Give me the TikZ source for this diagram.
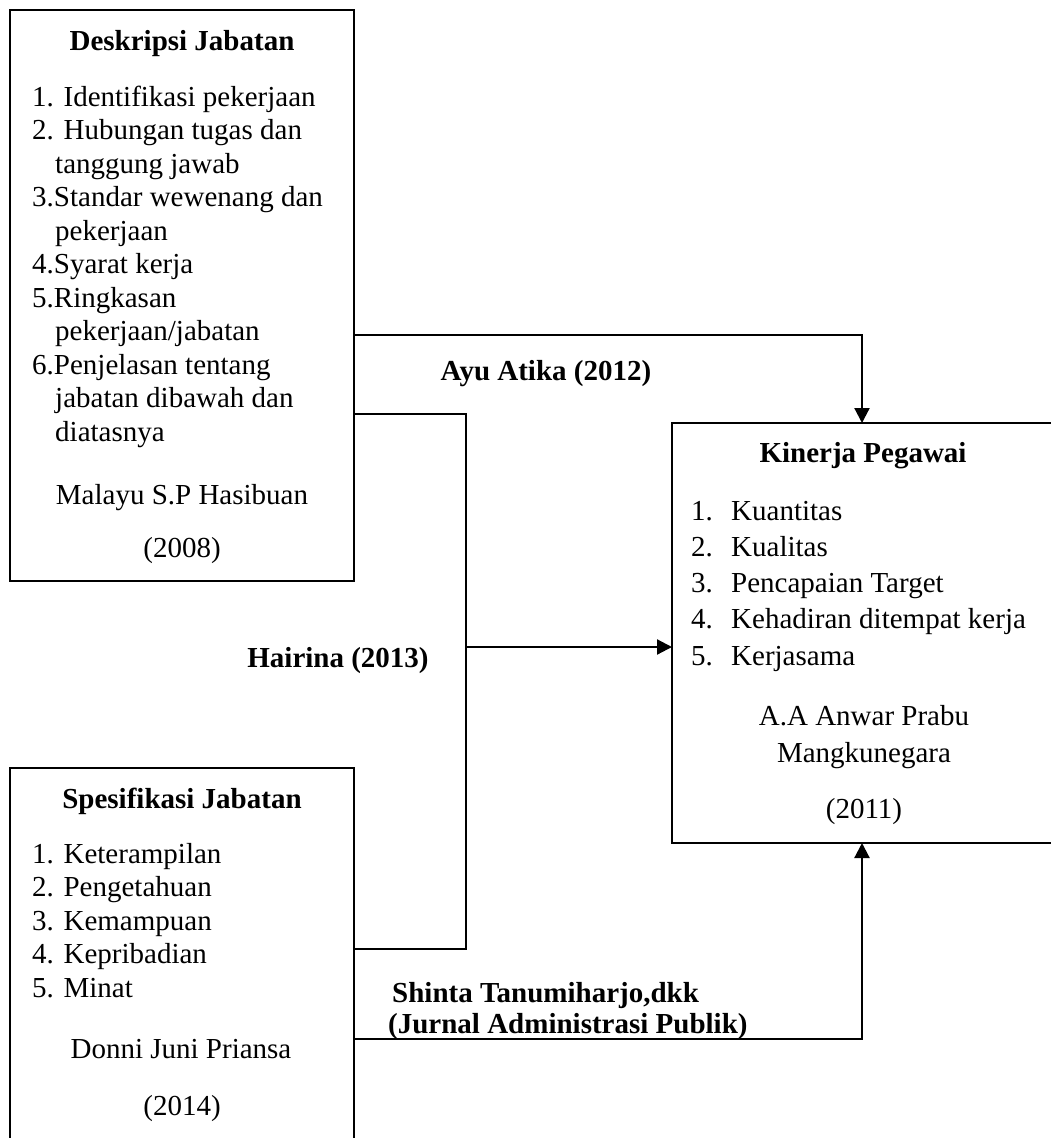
\documentclass[tikz,border=0pt]{standalone}
\usepackage{fontspec}
\setmainfont{Liberation Serif}
\usetikzlibrary{arrows.meta}
\tikzset{
  boxnode/.style={draw, line width=2.1pt, inner sep=0pt, outer sep=0pt},
  txt/.style={font=\fontsize{29}{33.5}\selectfont, inner sep=0pt, anchor=base west},
  txtc/.style={font=\fontsize{29}{33.5}\selectfont, inner sep=0pt, anchor=base},
  bold/.style={font=\fontsize{29}{33.5}\selectfont\bfseries, inner sep=0pt, anchor=base},
  boldw/.style={font=\fontsize{29}{33.5}\selectfont\bfseries, inner sep=0pt, anchor=base west},
  conn/.style={line width=2.2pt},
  arr/.style={line width=2.2pt, -{Triangle[length=15pt,width=15pt]}}
}
\begin{document}
\begin{tikzpicture}[x=1pt,y=-1pt]
\useasboundingbox (0,0) rectangle (1051,1138);
\clip (0,0) rectangle (1051,1138);

% boxes
\node[boxnode, minimum width=344pt, minimum height=571pt] (desk) at (182,295.5) {};
\node[boxnode, minimum width=388pt, minimum height=420pt] (kin) at (866,633) {};
\node[boxnode, minimum width=344pt, minimum height=382pt] (spes) at (182,959) {};

% Deskripsi Jabatan
\node[bold] (d0) at (182,50) {Deskripsi Jabatan};
\node[txt] (d1) at (32,106) {1. Identifikasi pekerjaan};
\node[txt] (d2) at (32,139.5) {2. Hubungan tugas dan};
\node[txt] (d2b) at (55,173) {tanggung jawab};
\node[txt] (d3) at (32,206.5) {3.Standar wewenang dan};
\node[txt] (d3b) at (55,240) {pekerjaan};
\node[txt] (d4) at (32,273.5) {4.Syarat kerja};
\node[txt] (d5) at (32,307) {5.Ringkasan};
\node[txt] (d5b) at (55,340.5) {pekerjaan/jabatan};
\node[txt] (d6) at (32,374) {6.Penjelasan tentang};
\node[txt] (d6b) at (55,407.5) {jabatan dibawah dan};
\node[txt] (d6c) at (55,441) {diatasnya};
\node[txtc] (da) at (182,504) {Malayu S.P Hasibuan};
\node[txtc] (dy) at (182,557) {(2008)};

% Kinerja Pegawai
\node[bold] (k0) at (863,462) {Kinerja Pegawai};
\node[txt] (k1n) at (691,520) {1.};
\node[txt] (k1) at (731,520) {Kuantitas};
\node[txt] (k2n) at (691,556.25) {2.};
\node[txt] (k2) at (731,556.25) {Kualitas};
\node[txt] (k3n) at (691,592.5) {3.};
\node[txt] (k3) at (731,592.5) {Pencapaian Target};
\node[txt] (k4n) at (691,628.75) {4.};
\node[txt] (k4) at (731,628.75) {Kehadiran ditempat kerja};
\node[txt] (k5n) at (691,665) {5.};
\node[txt] (k5) at (731,665) {Kerjasama};
\node[txtc] (ka) at (864,725) {A.A Anwar Prabu};
\node[txtc] (kb) at (864,762) {Mangkunegara};
\node[txtc] (ky) at (864,818) {(2011)};

% Spesifikasi Jabatan
\node[bold] (s0) at (182,808) {Spesifikasi Jabatan};
\node[txt] (s1) at (32,863) {1. Keterampilan};
\node[txt] (s2) at (32,896.5) {2. Pengetahuan};
\node[txt] (s3) at (32,930) {3. Kemampuan};
\node[txt] (s4) at (32,963.5) {4. Kepribadian};
\node[txt] (s5) at (32,997) {5. Minat};
\node[txtc] (sa) at (181,1058) {Donni Juni Priansa};
\node[txtc] (sy) at (182,1115) {(2014)};

% connector labels
\node[bold] (lAyu) at (546,380) {Ayu Atika (2012)};
\node[bold] (lHai) at (338,667) {Hairina (2013)};
\node[boldw] (lSh1) at (392,1002) {Shinta Tanumiharjo,dkk};
\node[boldw] (lSh2) at (388,1033) {(Jurnal Administrasi Publik)};

% connectors
\coordinate (ayuTurn) at (862,335);
\coordinate (hTop) at (466,414);
\coordinate (hMid) at (466,647);
\coordinate (hBot) at (466,949);
\coordinate (sTurn) at (862,1039);

\draw[arr] (desk.east |- ayuTurn) -- (ayuTurn) -- (ayuTurn |- kin.north);
\draw[conn] (desk.east |- hTop) -- (hTop) -- (hBot) -- (spes.east |- hBot);
\draw[arr] (hMid) -- (kin.west |- hMid);
\draw[arr] (spes.east |- sTurn) -- (sTurn) -- (sTurn |- kin.south);
\end{tikzpicture}
\end{document}
